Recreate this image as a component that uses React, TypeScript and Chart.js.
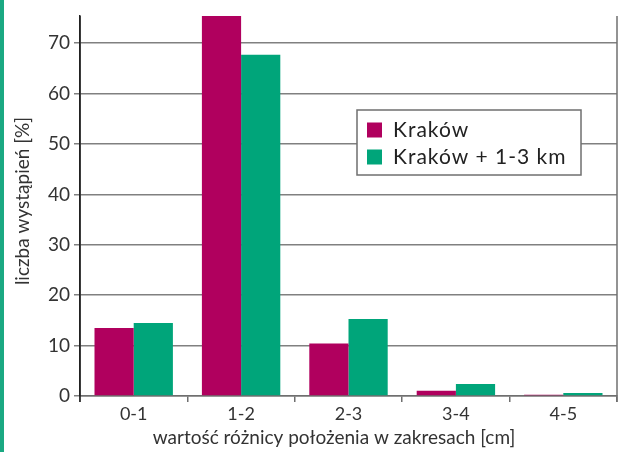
import React, { useEffect, useRef } from "react";
import { Chart, registerables } from "chart.js";

Chart.register(...registerables);

const categories = ["0-1", "1-2", "2-3", "3-4", "4-5"];
const seriesNames = ["Kraków", "Kraków + 1-3 km"];
const krakow = [13.5, 76.5, 10.4, 1.05, 0.25];
const krakowPlus = [14.5, 67.7, 15.3, 2.4, 0.6];
const yTickValues = [0, 10, 20, 30, 40, 50, 60, 70];
const xTitle = "wartość różnicy położenia w zakresach [cm]";
const yTitle = "liczba wystąpień [%]";

const MAGENTA = "#b0005e";
const GREEN = "#00a57a";
const FONT = "Lato, 'Open Sans', sans-serif";

const legendPlugin = {
  id: "insideLegend",
  afterDraw(chart: any) {
    const ctx = chart.ctx;
    const x = 357, y = 110, w = 224, h = 65;
    ctx.save();
    ctx.fillStyle = "#ffffff";
    ctx.fillRect(x, y, w, h);
    ctx.strokeStyle = "#6f6f6f";
    ctx.lineWidth = 1.5;
    ctx.strokeRect(x, y, w, h);
    ctx.font = `21px ${FONT}`;
    (ctx as any).letterSpacing = "1px";
    ctx.textBaseline = "middle";
    chart.data.datasets.forEach((ds: any, i: number) => {
      const cy = y + 20 + i * 27;
      ctx.fillStyle = ds.backgroundColor;
      ctx.fillRect(x + 10, cy - 7.5, 15, 15);
      ctx.fillStyle = "#222222";
      ctx.fillText(ds.label, x + 36, cy);
    });
    (ctx as any).letterSpacing = "0px";
    ctx.restore();
  },
};

const titlesPlugin = {
  id: "titles",
  afterDraw(chart: any) {
    const ctx = chart.ctx;
    ctx.save();
    ctx.fillStyle = "#333333";
    ctx.font = `19px ${FONT}`;
    ctx.textAlign = "center";
    ctx.textBaseline = "middle";
    ctx.fillText(xTitle, 334, 438);
    ctx.translate(23, 201);
    ctx.rotate(-Math.PI / 2);
    ctx.fillText(yTitle, 0, 0);
    ctx.restore();
  },
};

const framePlugin = {
  id: "frame",
  afterDatasetsDraw(chart: any) {
    const { ctx, chartArea } = chart;
    ctx.save();
    ctx.strokeStyle = "#6f6f6f";
    ctx.lineWidth = 1.5;
    ctx.beginPath();
    ctx.moveTo(chartArea.right, chartArea.top);
    ctx.lineTo(chartArea.right, chartArea.bottom + 6);
    ctx.stroke();
    ctx.strokeStyle = "#222222";
    ctx.beginPath();
    ctx.moveTo(chartArea.left, chartArea.top);
    ctx.lineTo(chartArea.left, chartArea.bottom + 6);
    ctx.stroke();
    ctx.restore();
  },
};

export default function App() {
  const ref = useRef<HTMLCanvasElement>(null);
  useEffect(() => {
    const chart = new Chart(ref.current!, {
      type: "bar",
      data: {
        labels: categories,
        datasets: [
          { label: seriesNames[0], data: krakow, backgroundColor: MAGENTA },
          { label: seriesNames[1], data: krakowPlus, backgroundColor: GREEN },
        ],
      },
      options: {
        animation: false,
        responsive: false,
        maintainAspectRatio: false,
        layout: { padding: { left: 6, right: 10, top: 16, bottom: 0 } },
        plugins: { legend: { display: false }, tooltip: { enabled: false } },
        datasets: { bar: { categoryPercentage: 0.73, barPercentage: 1 } },
        scales: {
          x: {
            afterFit(scale: any) {
              scale.height = 56;
            },
            grid: {
              display: true,
              drawOnChartArea: false,
              drawTicks: true,
              tickLength: 6,
              color: "#6f6f6f",
              lineWidth: 1.5,
              offset: true,
            },
            border: { display: true, color: "#6f6f6f", width: 1.5 },
            ticks: { color: "#333333", font: { family: FONT, size: 18 }, padding: 1 },
            title: { display: false },
          },
          y: {
            min: 0,
            max: 75.4,
            afterFit(scale: any) {
              scale.width = 74;
            },
            afterBuildTicks(scale: any) {
              scale.ticks = yTickValues.map((v) => ({ value: v }));
            },
            grid: {
              color: "#808080",
              lineWidth: 1.5,
              tickLength: 6,
            },
            border: { display: true, color: "#222222", width: 1.5 },
            ticks: { color: "#333333", font: { family: FONT, size: 19 }, padding: 4 },
            title: { display: false },
          },
        },
      },
      plugins: [framePlugin, legendPlugin, titlesPlugin],
    });
    return () => chart.destroy();
  }, []);
  return (
    <div style={{ position: "fixed", left: 0, top: 0, width: 627, height: 452, background: "#fff" }}>
      <div style={{ position: "absolute", left: 0, top: 0, width: 4, height: 452, background: "#1aa982" }} />
      <canvas ref={ref} width={627} height={452} style={{ position: "absolute", left: 0, top: 0 }} />
    </div>
  );
}
